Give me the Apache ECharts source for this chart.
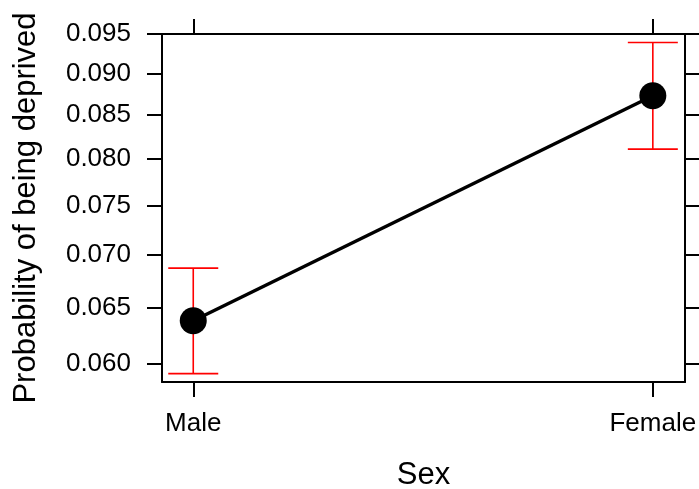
<!DOCTYPE html>
<html>
<head>
<meta charset="utf-8">
<script src="https://cdn.jsdelivr.net/npm/echarts@6/dist/echarts.min.js"></script>
<style>
  html, body { margin: 0; padding: 0; background: #fff; }
  #chart { width: 699px; height: 489px; }
</style>
</head>
<body>
<div id="chart"></div>
<script>
// Effect of sex on the probability of being deprived, with 95% intervals
const categories = ['Male', 'Female'];
const estimate = [0.0638, 0.0873];
const lower = [0.0592, 0.0811];
const upper = [0.0687, 0.0939];
const tickValues = [0.060, 0.065, 0.070, 0.075, 0.080, 0.085, 0.090, 0.095];
const yRange = [0.0585, 0.095];

// The response axis is drawn on the logit scale
const logit = p => Math.log(p / (1 - p));
const invLogit = v => 1 / (1 + Math.exp(-v));

const FONT = '"Liberation Sans", Arial, Helvetica, sans-serif';
const catIdx = categories.map((_, i) => i);
const yTicks = tickValues.map(logit);

const lineW = 2;
const tickLen = 15;

const xBase = {
  type: 'value', min: -0.068, max: 1.07,
  splitLine: { show: false },
  axisLine: { show: true, onZero: false, lineStyle: { color: '#000', width: lineW } },
  axisTick: { show: true, length: tickLen, customValues: catIdx, lineStyle: { color: '#000', width: lineW } }
};
const yBase = {
  type: 'value', min: logit(yRange[0]), max: logit(yRange[1]),
  splitLine: { show: false },
  axisLine: { show: true, onZero: false, lineStyle: { color: '#000', width: lineW } },
  axisTick: { show: true, length: tickLen, customValues: yTicks, lineStyle: { color: '#000', width: lineW } }
};

const chart = echarts.init(document.getElementById('chart'), null, { renderer: 'canvas' });
chart.setOption({
  animation: false,
  backgroundColor: '#fff',
  textStyle: { fontFamily: FONT },
  grid: { left: 162, right: 14, top: 34, bottom: 107, containLabel: false, outerBoundsMode: 'none' },
  xAxis: [
    Object.assign({}, xBase, {
      position: 'bottom',
      name: 'Sex', nameLocation: 'middle', nameGap: 78,
      nameTextStyle: { fontFamily: FONT, fontSize: 31, color: '#000', verticalAlign: 'top' },
      axisLabel: {
        show: true, customValues: catIdx, margin: 29,
        fontFamily: FONT, fontSize: 26, color: '#000',
        formatter: v => categories[Math.round(v)]
      }
    }),
    Object.assign({}, xBase, { position: 'top', axisLabel: { show: false } })
  ],
  yAxis: [
    Object.assign({}, yBase, {
      position: 'left',
      name: 'Probability of being deprived', nameLocation: 'middle', nameGap: 120,
      nameTextStyle: { fontFamily: FONT, fontSize: 31, color: '#000' },
      axisLabel: {
        show: true, customValues: yTicks, margin: 31,
        fontFamily: FONT, fontSize: 26, color: '#000',
        formatter: v => invLogit(v).toFixed(3)
      }
    }),
    Object.assign({}, yBase, { position: 'right', axisLabel: { show: false } })
  ],
  series: [
    {
      type: 'custom',
      name: 'interval',
      xAxisIndex: 0, yAxisIndex: 0,
      z: 2,
      data: catIdx.map(i => [i, logit(lower[i]), logit(upper[i])]),
      renderItem: function (params, api) {
        const x = api.value(0);
        const lo = api.coord([x, api.value(1)]);
        const hi = api.coord([x, api.value(2)]);
        const cap = 25;
        const style = { stroke: '#ff0000', lineWidth: 1.6 };
        return {
          type: 'group',
          children: [
            { type: 'line', shape: { x1: lo[0], y1: lo[1], x2: hi[0], y2: hi[1] }, style: style },
            { type: 'line', shape: { x1: lo[0] - cap, y1: lo[1], x2: lo[0] + cap, y2: lo[1] }, style: style },
            { type: 'line', shape: { x1: hi[0] - cap, y1: hi[1], x2: hi[0] + cap, y2: hi[1] }, style: style }
          ]
        };
      }
    },
    {
      type: 'line',
      name: 'estimate',
      xAxisIndex: 0, yAxisIndex: 0,
      z: 3,
      data: catIdx.map(i => [i, logit(estimate[i])]),
      symbol: 'circle',
      symbolSize: 27,
      itemStyle: { color: '#000' },
      lineStyle: { color: '#000', width: 3.5 }
    }
  ]
});
</script>
</body>
</html>
